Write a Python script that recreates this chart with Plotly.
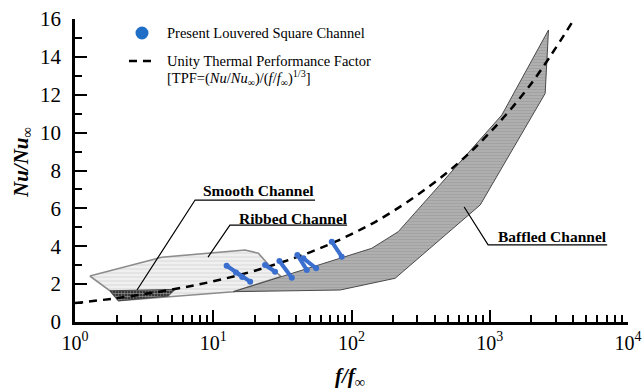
import plotly.graph_objects as go

# ---- data ----
# Ribbed channel band (f/f_inf, Nu/Nu_inf)
ribbed_x = [1.28, 4.24, 17.0, 21.2, 26.0, 31.0, 14.0, 7.0, 2.06, 1.79, 1.28]
ribbed_y = [2.43, 3.42, 3.80, 3.63, 2.90, 2.40, 1.60, 1.42, 1.12, 1.65, 2.43]

# Baffled channel band
baffled_x = [14.0, 82.7, 207, 853, 2517, 2660, 1223, 218, 140, 82.7, 14.0]
baffled_y = [1.60, 1.69, 2.31, 6.18, 12.07, 15.42, 10.93, 4.77, 3.89, 3.36, 1.60]

# Smooth channel band
smooth_x = [1.79, 5.29, 4.73, 2.06, 1.79]
smooth_y = [1.65, 1.72, 1.37, 1.12, 1.65]

# Unity thermal performance factor line
tpf_x = [1, 2, 5, 10, 20, 50, 100, 200, 500, 1000, 2000, 4000]
tpf_y = [1.0, 1.26, 1.71, 2.15, 2.71, 3.68, 4.64, 5.85, 7.94, 10.0, 12.6, 15.9]

# Present louvered square channel: short segments (start -> end)
seg_x0 = [12.5, 14.6, 23.7, 30.1, 40.6, 44.9, 72.0]
seg_y0 = [2.97, 2.62, 3.01, 3.22, 3.54, 3.36, 4.24]
seg_x1 = [18.5, 16.2, 28.0, 37.0, 47.5, 55.5, 85.0]
seg_y1 = [2.13, 2.38, 2.66, 2.34, 2.75, 2.84, 3.45]

# Leader lines for region labels (underline end, underline start, pointer)
smooth_lead_x = [54.5, 7.39, 2.81]
smooth_lead_y = [6.44, 6.44, 1.69]
ribbed_lead_x = [92.9, 13.2, 9.17]
ribbed_lead_y = [5.12, 5.12, 3.43]
baffled_lead_x = [7070, 973, 653]
baffled_lead_y = [4.07, 4.07, 6.07]

x_tickvals = [1, 10, 100, 1000, 10000]
x_ticktext = ["10<sup>0</sup>", "10<sup>1</sup>", "10<sup>2</sup>", "10<sup>3</sup>", "10<sup>4</sup>"]
y_tickvals = [0, 2, 4, 6, 8, 10, 12, 14, 16]

SERIF = "Liberation Serif, Times New Roman, serif"
BLUE = "#3a6fcf"

fig = go.Figure()

fig.add_trace(go.Scatter(
    x=ribbed_x, y=ribbed_y, mode="lines", fill="toself",
    line=dict(color="#8c8c8c", width=1.6),
    fillcolor="#e8e8e8",
    fillpattern=dict(shape="-", fgcolor="#cfcfcf", bgcolor="#f0f0f0", size=4, solidity=0.35),
    hoverinfo="skip", showlegend=False))

fig.add_trace(go.Scatter(
    x=baffled_x, y=baffled_y, mode="lines", fill="toself",
    line=dict(color="#4a4a4a", width=1),
    fillcolor="#a8a8a8",
    fillpattern=dict(shape="-", fgcolor="#939393", bgcolor="#b0b0b0", size=3, solidity=0.4),
    hoverinfo="skip", showlegend=False))

fig.add_trace(go.Scatter(
    x=smooth_x, y=smooth_y, mode="lines", fill="toself",
    line=dict(color="#444444", width=1),
    fillcolor="#555555",
    fillpattern=dict(shape=".", fgcolor="#ffffff", bgcolor="#111111", size=3, solidity=0.65),
    hoverinfo="skip", showlegend=False))

fig.add_trace(go.Scatter(
    x=tpf_x, y=tpf_y, mode="lines", line_shape="spline",
    line=dict(color="black", width=2.5, dash="8px,6px"),
    hoverinfo="skip", showlegend=False))

sx, sy = [], []
for a, b, c, d in zip(seg_x0, seg_y0, seg_x1, seg_y1):
    sx += [a, c, None]
    sy += [b, d, None]
fig.add_trace(go.Scatter(
    x=sx, y=sy, mode="lines+markers",
    line=dict(color=BLUE, width=4),
    marker=dict(color=BLUE, size=6),
    hoverinfo="skip", showlegend=False))

for lx, ly in [(smooth_lead_x, smooth_lead_y), (ribbed_lead_x, ribbed_lead_y), (baffled_lead_x, baffled_lead_y)]:
    fig.add_trace(go.Scatter(
        x=lx, y=ly, mode="lines", line=dict(color="black", width=1.2),
        hoverinfo="skip", showlegend=False))

annotations = [
    dict(text="<b>Smooth Channel</b>", x=0.331, y=0.4356),
    dict(text="<b>Ribbed Channel</b>", x=0.395, y=0.3416),
    dict(text="<b>Baffled Channel</b>", x=0.8635, y=0.2822),
]
anns = []
for a in annotations:
    anns.append(dict(text=a["text"], x=a["x"], y=a["y"], xref="paper", yref="paper",
                     xanchor="center", yanchor="middle", showarrow=False,
                     font=dict(family=SERIF, size=15.5, color="black")))

# legend (text + symbols)
anns.append(dict(text="Present Louvered Square Channel", x=0.1627, y=0.9538,
                 xref="paper", yref="paper", xanchor="left", yanchor="middle",
                 showarrow=False, font=dict(family=SERIF, size=14.5, color="black")))
anns.append(dict(text="Unity Thermal Performance Factor", x=0.1627, y=0.8614,
                 xref="paper", yref="paper", xanchor="left", yanchor="middle",
                 showarrow=False, font=dict(family=SERIF, size=14.5, color="black")))
anns.append(dict(text="[TPF=(<i>Nu</i>/<i>Nu</i><sub>∞</sub>)/(<i>f</i>/<i>f</i><sub>∞</sub>)<sup>1/3</sup>]",
                 x=0.1627, y=0.8053,
                 xref="paper", yref="paper", xanchor="left", yanchor="middle",
                 showarrow=False, font=dict(family=SERIF, size=14.5, color="black")))

# axis titles
anns.append(dict(text="<b><i>Nu/Nu</i></b><sub>∞</sub>", x=-0.0958, y=0.5248,
                 xref="paper", yref="paper", xanchor="center", yanchor="middle",
                 textangle=-90, showarrow=False, font=dict(family=SERIF, size=21, color="black")))
anns.append(dict(text="<b><i>f/f</i></b><sub>∞</sub>", x=0.4973, y=-0.1815,
                 xref="paper", yref="paper", xanchor="center", yanchor="middle",
                 showarrow=False, font=dict(family=SERIF, size=21, color="black")))

shapes = [
    dict(type="circle", xref="paper", yref="paper", x0=0.1094, x1=0.1329, y0=0.9323, y1=0.9752,
         fillcolor="#1f6fc6", line=dict(width=0)),
    dict(type="line", xref="paper", yref="paper", x0=0.0976, x1=0.1410, y0=0.8614, y1=0.8614,
         line=dict(color="black", width=2.5, dash="8px,6px")),
]

minor_x = [m * 10 ** d for d in range(4) for m in range(2, 10)]

fig.update_layout(
    width=643, height=391,
    margin=dict(l=75, r=15, t=19, b=69, autoexpand=False),
    paper_bgcolor="white", plot_bgcolor="white",
    font=dict(family=SERIF, color="black"),
    annotations=anns, shapes=shapes,
    showlegend=False,
    xaxis=dict(type="log", range=[0, 4], showgrid=False, zeroline=False, automargin=False,
               showline=True, linecolor="black", linewidth=2.5,
               ticks="inside", ticklen=12, tickwidth=2, tickcolor="black",
               tickvals=x_tickvals, ticktext=x_ticktext,
               tickfont=dict(family=SERIF, size=20, color="black"),
               ticklabelstandoff=1,
               minor=dict(ticks="inside", ticklen=7, tickwidth=1.5, tickcolor="black",
                          tickvals=minor_x, showgrid=False)),
    yaxis=dict(range=[0, 16], showgrid=False, zeroline=False, automargin=False,
               showline=True, linecolor="black", linewidth=2.5,
               ticks="inside", ticklen=12, tickwidth=2, tickcolor="black",
               tickvals=y_tickvals,
               tickfont=dict(family=SERIF, size=21, color="black"),
               ticklabelstandoff=7,
               minor=dict(ticks="inside", ticklen=7, tickwidth=1.5, tickcolor="black",
                          dtick=1, showgrid=False)),
)

fig.write_html("out.html", config={"displayModeBar": False},
               post_script="document.body.style.margin='0';document.body.style.overflow='hidden';")
